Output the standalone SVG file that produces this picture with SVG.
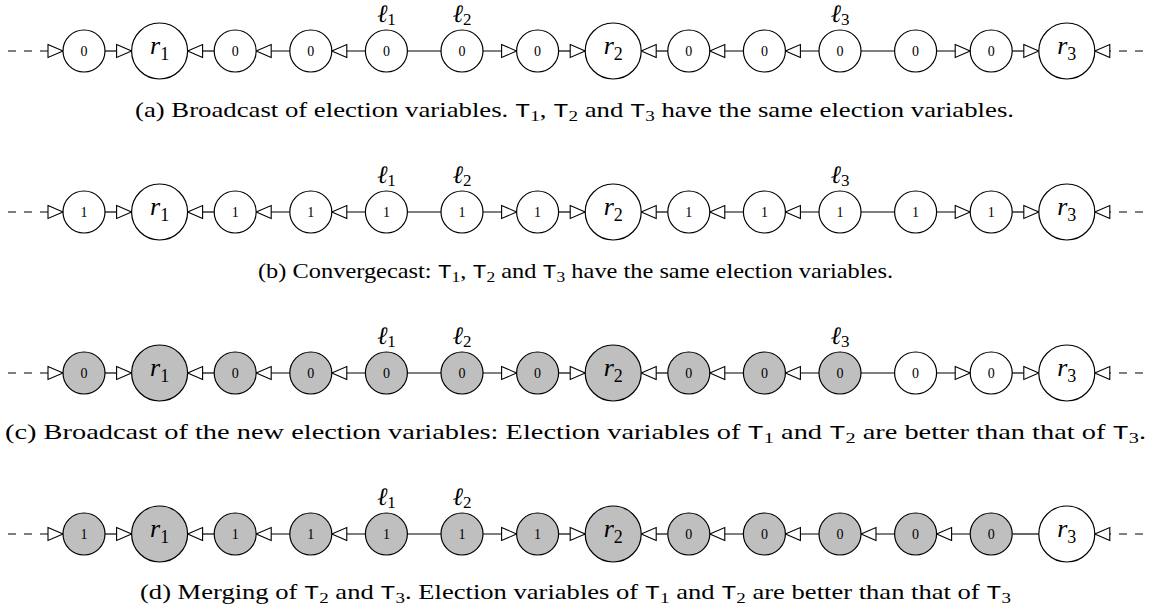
<svg xmlns="http://www.w3.org/2000/svg" width="1151" height="610" viewBox="0 0 1151 610">
<style>
.n{fill:#fff;stroke:#000;stroke-width:1.2}
.g{fill:#bfbfbf}
.e{stroke:#000;stroke-width:1.2;fill:none}
.d{stroke-dasharray:8 8}
.v{font-family:"Liberation Serif",serif;font-size:14px;text-anchor:middle}
.r{font-family:"Liberation Serif",serif;font-style:italic;font-size:26px;text-anchor:middle}
.rs{font-style:normal;font-size:18px}
.l{font-family:"Liberation Serif","DejaVu Serif",serif;font-style:italic;font-size:25px;text-anchor:middle}
.ls{font-style:normal;font-size:17px}
.cap{font-family:"Liberation Serif",serif;font-size:21px}
.tt{font-family:"Liberation Mono",monospace;font-size:20px}
.sb{font-size:15px}
</style>
<defs>
<marker id="ar" markerWidth="18" markerHeight="16" refX="15" refY="6.5" orient="auto" markerUnits="userSpaceOnUse" overflow="visible">
<path d="M0,0 L15,6.5 L0,13 Z" fill="#fff" stroke="#000" stroke-width="1.1" stroke-dasharray="none"/>
</marker>
</defs>

<!-- Row a -->
<g id="rowa-connectors">
<path class="e d" d="M8,51 H63" marker-end="url(#ar)"/>
<path class="e" d="M105,51 H131.6" marker-end="url(#ar)"/>
<path class="e" d="M214.2,51 H187.6" marker-end="url(#ar)"/>
<path class="e" d="M289.8,51 H256.2" marker-end="url(#ar)"/>
<path class="e" d="M365.4,51 H331.8" marker-end="url(#ar)"/>
<path class="e" d="M407.4,51 H441"/>
<path class="e" d="M483,51 H516.6" marker-end="url(#ar)"/>
<path class="e" d="M558.6,51 H585.2" marker-end="url(#ar)"/>
<path class="e" d="M667.8,51 H641.2" marker-end="url(#ar)"/>
<path class="e" d="M743.4,51 H709.8" marker-end="url(#ar)"/>
<path class="e" d="M819,51 H785.4" marker-end="url(#ar)"/>
<path class="e" d="M861,51 H894.6"/>
<path class="e" d="M936.6,51 H970.2" marker-end="url(#ar)"/>
<path class="e" d="M1012.2,51 H1038.8" marker-end="url(#ar)"/>
<path class="e d" d="M1151,51 H1094.8" stroke-dashoffset="8" marker-end="url(#ar)"/>
</g>
<g id="a0"><circle class="n" cx="84" cy="51" r="21"/><text class="v" x="84" y="55.5">0</text></g>
<g id="a1"><circle class="n" cx="159.6" cy="51" r="28"/><text class="r" x="159.6" y="54">r<tspan class="rs" dy="6">1</tspan></text></g>
<g id="a2"><circle class="n" cx="235.2" cy="51" r="21"/><text class="v" x="235.2" y="55.5">0</text></g>
<g id="a3"><circle class="n" cx="310.8" cy="51" r="21"/><text class="v" x="310.8" y="55.5">0</text></g>
<g id="a4"><circle class="n" cx="386.4" cy="51" r="21"/><text class="v" x="386.4" y="55.5">0</text><text class="l" x="386.4" y="22">ℓ<tspan class="ls" dy="3">1</tspan></text></g>
<g id="a5"><circle class="n" cx="462" cy="51" r="21"/><text class="v" x="462" y="55.5">0</text><text class="l" x="462" y="22">ℓ<tspan class="ls" dy="3">2</tspan></text></g>
<g id="a6"><circle class="n" cx="537.6" cy="51" r="21"/><text class="v" x="537.6" y="55.5">0</text></g>
<g id="a7"><circle class="n" cx="613.2" cy="51" r="28"/><text class="r" x="613.2" y="54">r<tspan class="rs" dy="6">2</tspan></text></g>
<g id="a8"><circle class="n" cx="688.8" cy="51" r="21"/><text class="v" x="688.8" y="55.5">0</text></g>
<g id="a9"><circle class="n" cx="764.4" cy="51" r="21"/><text class="v" x="764.4" y="55.5">0</text></g>
<g id="a10"><circle class="n" cx="840" cy="51" r="21"/><text class="v" x="840" y="55.5">0</text><text class="l" x="840" y="22">ℓ<tspan class="ls" dy="3">3</tspan></text></g>
<g id="a11"><circle class="n" cx="915.6" cy="51" r="21"/><text class="v" x="915.6" y="55.5">0</text></g>
<g id="a12"><circle class="n" cx="991.2" cy="51" r="21"/><text class="v" x="991.2" y="55.5">0</text></g>
<g id="a13"><circle class="n" cx="1066.8" cy="51" r="28"/><text class="r" x="1066.8" y="54">r<tspan class="rs" dy="6">3</tspan></text></g>
<text id="capa" class="cap" x="135" y="117" textLength="879" lengthAdjust="spacingAndGlyphs">(a) Broadcast of election variables. <tspan class="tt">T</tspan><tspan class="sb" dy="4">1</tspan><tspan dy="-4">, </tspan><tspan class="tt">T</tspan><tspan class="sb" dy="4">2</tspan><tspan dy="-4"> and </tspan><tspan class="tt">T</tspan><tspan class="sb" dy="4">3</tspan><tspan dy="-4"> have the same election variables.</tspan></text>

<!-- Row b -->
<g id="rowb-connectors">
<path class="e d" d="M8,212 H63" marker-end="url(#ar)"/>
<path class="e" d="M105,212 H131.6" marker-end="url(#ar)"/>
<path class="e" d="M214.2,212 H187.6" marker-end="url(#ar)"/>
<path class="e" d="M289.8,212 H256.2" marker-end="url(#ar)"/>
<path class="e" d="M365.4,212 H331.8" marker-end="url(#ar)"/>
<path class="e" d="M407.4,212 H441"/>
<path class="e" d="M483,212 H516.6" marker-end="url(#ar)"/>
<path class="e" d="M558.6,212 H585.2" marker-end="url(#ar)"/>
<path class="e" d="M667.8,212 H641.2" marker-end="url(#ar)"/>
<path class="e" d="M743.4,212 H709.8" marker-end="url(#ar)"/>
<path class="e" d="M819,212 H785.4" marker-end="url(#ar)"/>
<path class="e" d="M861,212 H894.6"/>
<path class="e" d="M936.6,212 H970.2" marker-end="url(#ar)"/>
<path class="e" d="M1012.2,212 H1038.8" marker-end="url(#ar)"/>
<path class="e d" d="M1151,212 H1094.8" stroke-dashoffset="8" marker-end="url(#ar)"/>
</g>
<g id="b0"><circle class="n" cx="84" cy="212" r="21"/><text class="v" x="84" y="216.5">1</text></g>
<g id="b1"><circle class="n" cx="159.6" cy="212" r="28"/><text class="r" x="159.6" y="215">r<tspan class="rs" dy="6">1</tspan></text></g>
<g id="b2"><circle class="n" cx="235.2" cy="212" r="21"/><text class="v" x="235.2" y="216.5">1</text></g>
<g id="b3"><circle class="n" cx="310.8" cy="212" r="21"/><text class="v" x="310.8" y="216.5">1</text></g>
<g id="b4"><circle class="n" cx="386.4" cy="212" r="21"/><text class="v" x="386.4" y="216.5">1</text><text class="l" x="386.4" y="183">ℓ<tspan class="ls" dy="3">1</tspan></text></g>
<g id="b5"><circle class="n" cx="462" cy="212" r="21"/><text class="v" x="462" y="216.5">1</text><text class="l" x="462" y="183">ℓ<tspan class="ls" dy="3">2</tspan></text></g>
<g id="b6"><circle class="n" cx="537.6" cy="212" r="21"/><text class="v" x="537.6" y="216.5">1</text></g>
<g id="b7"><circle class="n" cx="613.2" cy="212" r="28"/><text class="r" x="613.2" y="215">r<tspan class="rs" dy="6">2</tspan></text></g>
<g id="b8"><circle class="n" cx="688.8" cy="212" r="21"/><text class="v" x="688.8" y="216.5">1</text></g>
<g id="b9"><circle class="n" cx="764.4" cy="212" r="21"/><text class="v" x="764.4" y="216.5">1</text></g>
<g id="b10"><circle class="n" cx="840" cy="212" r="21"/><text class="v" x="840" y="216.5">1</text><text class="l" x="840" y="183">ℓ<tspan class="ls" dy="3">3</tspan></text></g>
<g id="b11"><circle class="n" cx="915.6" cy="212" r="21"/><text class="v" x="915.6" y="216.5">1</text></g>
<g id="b12"><circle class="n" cx="991.2" cy="212" r="21"/><text class="v" x="991.2" y="216.5">1</text></g>
<g id="b13"><circle class="n" cx="1066.8" cy="212" r="28"/><text class="r" x="1066.8" y="215">r<tspan class="rs" dy="6">3</tspan></text></g>
<text id="capb" class="cap" x="258" y="278" textLength="635" lengthAdjust="spacingAndGlyphs">(b) Convergecast: <tspan class="tt">T</tspan><tspan class="sb" dy="4">1</tspan><tspan dy="-4">, </tspan><tspan class="tt">T</tspan><tspan class="sb" dy="4">2</tspan><tspan dy="-4"> and </tspan><tspan class="tt">T</tspan><tspan class="sb" dy="4">3</tspan><tspan dy="-4"> have the same election variables.</tspan></text>

<!-- Row c -->
<g id="rowc-connectors">
<path class="e d" d="M8,373 H63" marker-end="url(#ar)"/>
<path class="e" d="M105,373 H131.6" marker-end="url(#ar)"/>
<path class="e" d="M214.2,373 H187.6" marker-end="url(#ar)"/>
<path class="e" d="M289.8,373 H256.2" marker-end="url(#ar)"/>
<path class="e" d="M365.4,373 H331.8" marker-end="url(#ar)"/>
<path class="e" d="M407.4,373 H441"/>
<path class="e" d="M483,373 H516.6" marker-end="url(#ar)"/>
<path class="e" d="M558.6,373 H585.2" marker-end="url(#ar)"/>
<path class="e" d="M667.8,373 H641.2" marker-end="url(#ar)"/>
<path class="e" d="M743.4,373 H709.8" marker-end="url(#ar)"/>
<path class="e" d="M819,373 H785.4" marker-end="url(#ar)"/>
<path class="e" d="M861,373 H894.6"/>
<path class="e" d="M936.6,373 H970.2" marker-end="url(#ar)"/>
<path class="e" d="M1012.2,373 H1038.8" marker-end="url(#ar)"/>
<path class="e d" d="M1151,373 H1094.8" stroke-dashoffset="8" marker-end="url(#ar)"/>
</g>
<g id="c0"><circle class="n g" cx="84" cy="373" r="21"/><text class="v" x="84" y="377.5">0</text></g>
<g id="c1"><circle class="n g" cx="159.6" cy="373" r="28"/><text class="r" x="159.6" y="376">r<tspan class="rs" dy="6">1</tspan></text></g>
<g id="c2"><circle class="n g" cx="235.2" cy="373" r="21"/><text class="v" x="235.2" y="377.5">0</text></g>
<g id="c3"><circle class="n g" cx="310.8" cy="373" r="21"/><text class="v" x="310.8" y="377.5">0</text></g>
<g id="c4"><circle class="n g" cx="386.4" cy="373" r="21"/><text class="v" x="386.4" y="377.5">0</text><text class="l" x="386.4" y="344">ℓ<tspan class="ls" dy="3">1</tspan></text></g>
<g id="c5"><circle class="n g" cx="462" cy="373" r="21"/><text class="v" x="462" y="377.5">0</text><text class="l" x="462" y="344">ℓ<tspan class="ls" dy="3">2</tspan></text></g>
<g id="c6"><circle class="n g" cx="537.6" cy="373" r="21"/><text class="v" x="537.6" y="377.5">0</text></g>
<g id="c7"><circle class="n g" cx="613.2" cy="373" r="28"/><text class="r" x="613.2" y="376">r<tspan class="rs" dy="6">2</tspan></text></g>
<g id="c8"><circle class="n g" cx="688.8" cy="373" r="21"/><text class="v" x="688.8" y="377.5">0</text></g>
<g id="c9"><circle class="n g" cx="764.4" cy="373" r="21"/><text class="v" x="764.4" y="377.5">0</text></g>
<g id="c10"><circle class="n g" cx="840" cy="373" r="21"/><text class="v" x="840" y="377.5">0</text><text class="l" x="840" y="344">ℓ<tspan class="ls" dy="3">3</tspan></text></g>
<g id="c11"><circle class="n" cx="915.6" cy="373" r="21"/><text class="v" x="915.6" y="377.5">0</text></g>
<g id="c12"><circle class="n" cx="991.2" cy="373" r="21"/><text class="v" x="991.2" y="377.5">0</text></g>
<g id="c13"><circle class="n" cx="1066.8" cy="373" r="28"/><text class="r" x="1066.8" y="376">r<tspan class="rs" dy="6">3</tspan></text></g>
<text id="capc" class="cap" x="5" y="439" textLength="1141" lengthAdjust="spacingAndGlyphs">(c) Broadcast of the new election variables: Election variables of <tspan class="tt">T</tspan><tspan class="sb" dy="4">1</tspan><tspan dy="-4"> and </tspan><tspan class="tt">T</tspan><tspan class="sb" dy="4">2</tspan><tspan dy="-4"> are better than that of </tspan><tspan class="tt">T</tspan><tspan class="sb" dy="4">3</tspan><tspan dy="-4">.</tspan></text>

<!-- Row d -->
<g id="rowd-connectors">
<path class="e d" d="M8,534 H63" marker-end="url(#ar)"/>
<path class="e" d="M105,534 H131.6" marker-end="url(#ar)"/>
<path class="e" d="M214.2,534 H187.6" marker-end="url(#ar)"/>
<path class="e" d="M289.8,534 H256.2" marker-end="url(#ar)"/>
<path class="e" d="M365.4,534 H331.8" marker-end="url(#ar)"/>
<path class="e" d="M407.4,534 H441"/>
<path class="e" d="M483,534 H516.6" marker-end="url(#ar)"/>
<path class="e" d="M558.6,534 H585.2" marker-end="url(#ar)"/>
<path class="e" d="M667.8,534 H641.2" marker-end="url(#ar)"/>
<path class="e" d="M743.4,534 H709.8" marker-end="url(#ar)"/>
<path class="e" d="M819,534 H785.4" marker-end="url(#ar)"/>
<path class="e" d="M894.6,534 H861" marker-end="url(#ar)"/>
<path class="e" d="M970.2,534 H936.6" marker-end="url(#ar)"/>
<path class="e" d="M1012.2,534 H1038.8"/>
<path class="e d" d="M1151,534 H1094.8" stroke-dashoffset="8" marker-end="url(#ar)"/>
</g>
<g id="d0"><circle class="n g" cx="84" cy="534" r="21"/><text class="v" x="84" y="538.5">1</text></g>
<g id="d1"><circle class="n g" cx="159.6" cy="534" r="28"/><text class="r" x="159.6" y="537">r<tspan class="rs" dy="6">1</tspan></text></g>
<g id="d2"><circle class="n g" cx="235.2" cy="534" r="21"/><text class="v" x="235.2" y="538.5">1</text></g>
<g id="d3"><circle class="n g" cx="310.8" cy="534" r="21"/><text class="v" x="310.8" y="538.5">1</text></g>
<g id="d4"><circle class="n g" cx="386.4" cy="534" r="21"/><text class="v" x="386.4" y="538.5">1</text><text class="l" x="386.4" y="505">ℓ<tspan class="ls" dy="3">1</tspan></text></g>
<g id="d5"><circle class="n g" cx="462" cy="534" r="21"/><text class="v" x="462" y="538.5">1</text><text class="l" x="462" y="505">ℓ<tspan class="ls" dy="3">2</tspan></text></g>
<g id="d6"><circle class="n g" cx="537.6" cy="534" r="21"/><text class="v" x="537.6" y="538.5">1</text></g>
<g id="d7"><circle class="n g" cx="613.2" cy="534" r="28"/><text class="r" x="613.2" y="537">r<tspan class="rs" dy="6">2</tspan></text></g>
<g id="d8"><circle class="n g" cx="688.8" cy="534" r="21"/><text class="v" x="688.8" y="538.5">0</text></g>
<g id="d9"><circle class="n g" cx="764.4" cy="534" r="21"/><text class="v" x="764.4" y="538.5">0</text></g>
<g id="d10"><circle class="n g" cx="840" cy="534" r="21"/><text class="v" x="840" y="538.5">0</text></g>
<g id="d11"><circle class="n g" cx="915.6" cy="534" r="21"/><text class="v" x="915.6" y="538.5">0</text></g>
<g id="d12"><circle class="n g" cx="991.2" cy="534" r="21"/><text class="v" x="991.2" y="538.5">0</text></g>
<g id="d13"><circle class="n" cx="1066.8" cy="534" r="28"/><text class="r" x="1066.8" y="537">r<tspan class="rs" dy="6">3</tspan></text></g>
<text id="capd" class="cap" x="140" y="599" textLength="871" lengthAdjust="spacingAndGlyphs">(d) Merging of <tspan class="tt">T</tspan><tspan class="sb" dy="4">2</tspan><tspan dy="-4"> and </tspan><tspan class="tt">T</tspan><tspan class="sb" dy="4">3</tspan><tspan dy="-4">. Election variables of </tspan><tspan class="tt">T</tspan><tspan class="sb" dy="4">1</tspan><tspan dy="-4"> and </tspan><tspan class="tt">T</tspan><tspan class="sb" dy="4">2</tspan><tspan dy="-4"> are better than that of </tspan><tspan class="tt">T</tspan><tspan class="sb" dy="4">3</tspan></text>
</svg>
